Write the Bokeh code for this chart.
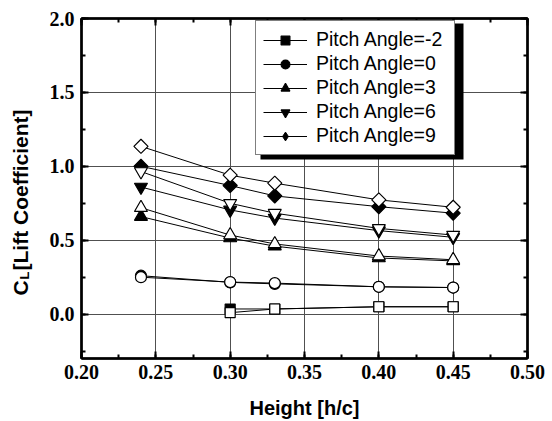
import math
from bokeh.plotting import figure
from bokeh.layouts import row
from bokeh.models import (LinearAxis, SingleIntervalTicker, Range1d, Legend, LegendItem,
                          Label, BoxAnnotation, Grid, NumeralTickFormatter)
from bokeh.embed import file_html
from bokeh.resources import INLINE

# ---- data ----
heights = [0.24, 0.30, 0.33, 0.40, 0.45]
heights_m2 = [0.30, 0.33, 0.40, 0.45]

# filled markers
cl_m2_filled = [0.035, 0.035, 0.05, 0.05]
cl_0_filled = [0.26, 0.215, 0.205, 0.185, 0.18]
cl_3_filled = [0.66, 0.515, 0.46, 0.38, 0.36]
cl_6_filled = [0.86, 0.705, 0.65, 0.565, 0.52]
cl_9_filled = [1.00, 0.87, 0.80, 0.727, 0.683]

# open markers
cl_m2_open = [0.01, 0.035, 0.05, 0.05]
cl_0_open = [0.25, 0.217, 0.21, 0.185, 0.18]
cl_3_open = [0.72, 0.535, 0.475, 0.393, 0.368]
cl_6_open = [0.965, 0.75, 0.683, 0.58, 0.535]
cl_9_open = [1.135, 0.94, 0.886, 0.773, 0.723]

labels = ["Pitch Angle=-2", "Pitch Angle=0", "Pitch Angle=3", "Pitch Angle=6", "Pitch Angle=9"]
x_title = "Height [h/c]"
y_title_main = "C"
y_title_sub = "L"
y_title_rest = "[Lift Coefficient]"
x_ticks_interval = 0.05
y_ticks_interval = 0.5

SANS = "Liberation Sans"
SERIF = "Liberation Serif"

YW = 44  # width of the strip that carries the vertical title

p = figure(width=552 - YW, height=421, output_backend="svg", toolbar_location=None,
           x_range=Range1d(0.20, 0.50), y_range=Range1d(-0.3, 2.0),
           x_axis_type=None, y_axis_type=None,
           min_border_left=81 - YW, min_border_right=25, min_border_top=18, min_border_bottom=63)
p.background_fill_color = "white"
p.border_fill_color = "white"
p.outline_line_color = "black"
p.outline_line_width = 2

xt = SingleIntervalTicker(interval=x_ticks_interval, num_minor_ticks=2)
yt = SingleIntervalTicker(interval=y_ticks_interval, num_minor_ticks=2)

def style_axis(ax, show_labels):
    ax.major_tick_in = 7
    ax.major_tick_out = 0
    ax.minor_tick_in = 4
    ax.minor_tick_out = 0
    ax.axis_line_width = 2.5
    ax.major_tick_line_width = 2
    ax.minor_tick_line_width = 2
    ax.axis_line_color = "black"
    ax.major_tick_line_color = "black"
    ax.minor_tick_line_color = "black"
    if show_labels:
        ax.major_label_text_font = SERIF
        ax.major_label_text_font_style = "bold"
        ax.major_label_text_font_size = "20px"
        ax.major_label_text_color = "black"
    else:
        ax.major_label_text_font_size = "0px"
        ax.major_label_standoff = 0

xb = LinearAxis(ticker=xt, formatter=NumeralTickFormatter(format="0.00"))
style_axis(xb, True)
xb.major_label_standoff = 6
xb.axis_label = x_title
xb.axis_label_text_font = SANS
xb.axis_label_text_font_style = "bold"
xb.axis_label_text_font_size = "20px"
xb.axis_label_text_color = "black"
xb.axis_label_standoff = 15
yl = LinearAxis(ticker=yt, formatter=NumeralTickFormatter(format="0.0"))
style_axis(yl, True)
yl.major_label_standoff = 7
xa = LinearAxis(ticker=xt)
style_axis(xa, False)
yr = LinearAxis(ticker=yt)
style_axis(yr, False)
p.add_layout(xb, "below")
p.add_layout(yl, "left")
p.add_layout(xa, "above")
p.add_layout(yr, "right")

p.add_layout(Grid(dimension=0, ticker=xt, grid_line_color="#505050", grid_line_width=1))
p.add_layout(Grid(dimension=1, ticker=yt, grid_line_color="#505050", grid_line_width=1))

series = [
    (heights_m2, cl_m2_filled, cl_m2_open, "square", 10, 0),
    (heights, cl_0_filled, cl_0_open, "circle", 11, 0),
    (heights, cl_3_filled, cl_3_open, "triangle", 13, 0),
    (heights, cl_6_filled, cl_6_open, "inverted_triangle", 13, 0),
    (heights, cl_9_filled, cl_9_open, "square", 10, math.pi / 4),
]

items = []
for (xs, yf, yo, mk, sz, ang), lab in zip(series, labels):
    lr = p.line(xs, yf, line_color="black", line_width=1)
    if ang != 0:
        # a diamond under the filled rotated squares; it gives the legend its swatch
        leg_r = p.scatter(xs, yf, marker="diamond", size=11, fill_color="black",
                          line_color="black", line_width=1)
    sr = p.scatter(xs, yf, marker=mk, size=sz, angle=ang, fill_color="black",
                   line_color="black", line_width=1.2)
    items.append(LegendItem(label=lab, renderers=[lr, leg_r if ang != 0 else sr]))

for (xs, yf, yo, mk, sz, ang) in series:
    p.line(xs, yo, line_color="black", line_width=1)
    p.scatter(xs, yo, marker=mk, size=sz, angle=ang, fill_color="white",
              line_color="black", line_width=1.2)

# legend shadow
shadow = BoxAnnotation(left=179, right=382, top=335, bottom=199,
                       left_units="screen", right_units="screen",
                       top_units="screen", bottom_units="screen",
                       fill_color="black", fill_alpha=1.0, line_color=None)
p.add_layout(shadow)

legend = Legend(items=items, location=(174, 203), margin=0, padding=7,
                glyph_width=44, glyph_height=22, label_height=22, spacing=1,
                label_standoff=9, label_width=131,
                label_text_font=SANS, label_text_font_size="19.5px",
                label_text_color="black",
                border_line_color="black", border_line_width=1.5,
                background_fill_color="white", background_fill_alpha=1.0)
p.add_layout(legend)

# strip on the left carrying the vertical title C_L [Lift Coefficient]
# (its frame is aligned with the main frame: y measured from the bottom of the frame)
yfig = figure(width=YW, height=421, output_backend="svg", toolbar_location=None,
              x_range=Range1d(0, 1), y_range=Range1d(0, 1),
              x_axis_type=None, y_axis_type=None, min_border=0)
yfig.outline_line_color = None
yfig.background_fill_color = "white"
yfig.border_fill_color = "white"
yfig.add_layout(Label(x=20, y=63, x_units="screen", y_units="screen", text=y_title_main,
                      angle=math.pi / 2, text_align="left", text_baseline="alphabetic",
                      text_font=SANS, text_font_style="bold", text_font_size="21px",
                      text_color="black"))
yfig.add_layout(Label(x=24, y=79, x_units="screen", y_units="screen", text=y_title_sub,
                      angle=math.pi / 2, text_align="left", text_baseline="alphabetic",
                      text_font=SANS, text_font_style="bold", text_font_size="13px",
                      text_color="black"))
yfig.add_layout(Label(x=20, y=88, x_units="screen", y_units="screen", text=y_title_rest,
                      angle=math.pi / 2, text_align="left", text_baseline="alphabetic",
                      text_font=SANS, text_font_style="bold", text_font_size="21px",
                      text_color="black"))

layout = row(yfig, p, spacing=0)
open("out.html", "w").write(file_html(layout, INLINE))
